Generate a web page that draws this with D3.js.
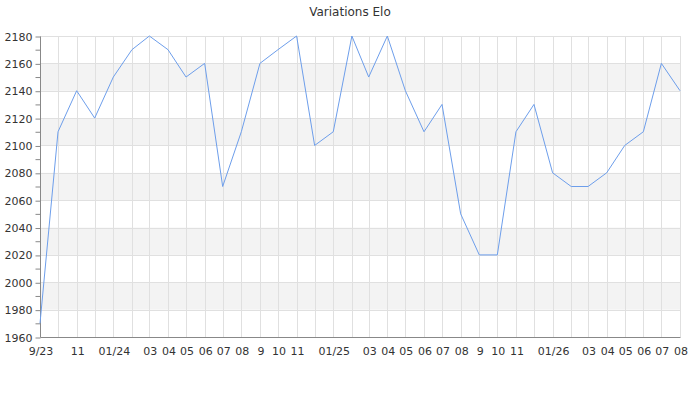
<!DOCTYPE html>
<html><head><meta charset="utf-8">
<script src="https://cdn.jsdelivr.net/npm/d3@7"></script>
<style>
body{margin:0;background:#fff;}
text{font-family:"DejaVu Sans",sans-serif;}
</style></head>
<body><svg id="c" width="700" height="400"></svg>
<script>
const title = "Variations Elo";
const months = ["2023-09","2023-10","2023-11","2023-12",
  "2024-01","2024-02","2024-03","2024-04","2024-05","2024-06","2024-07","2024-08","2024-09","2024-10","2024-11","2024-12",
  "2025-01","2025-02","2025-03","2025-04","2025-05","2025-06","2025-07","2025-08","2025-09","2025-10","2025-11","2025-12",
  "2026-01","2026-02","2026-03","2026-04","2026-05","2026-06","2026-07","2026-08"];
const elo = [1970,2110,2140,2120,
  2150,2170,2180,2170,2150,2160,2070,2110,2160,2170,2180,2100,
  2110,2180,2150,2180,2140,2110,2130,2050,2020,2020,2110,2130,
  2080,2070,2070,2080,2100,2110,2160,2140];
const xTickLabels = ["9/23","","11","",
  "01/24","","03","04","05","06","07","08","9","10","11","",
  "01/25","","03","04","05","06","07","08","9","10","11","",
  "01/26","","03","04","05","06","07","08"];
const yTicks = [1960,1980,2000,2020,2040,2060,2080,2100,2120,2140,2160,2180];

const svg = d3.select("#c");
const parse = d3.timeParse("%Y-%m");
const dates = months.map(parse);
const L=40, R=680, T=36, B=337;
const x = d3.scaleTime().domain([dates[0], dates[dates.length-1]]).range([L,R]);
const y = d3.scaleLinear().domain([1960,2180]).range([B,T]);

// bands
const bands = [];
for (let i=0;i<yTicks.length-1;i++) if (i%2===1) bands.push([yTicks[i],yTicks[i+1]]);
svg.append("g").selectAll("rect").data(bands).join("rect")
  .attr("x",L).attr("width",R-L)
  .attr("y",d=>y(d[1])).attr("height",d=>y(d[0])-y(d[1]))
  .attr("fill","#f3f3f3");

// vertical grid
svg.append("g").selectAll("line").data(dates.slice(1)).join("line")
  .attr("x1",d=>Math.round(x(d))+0.5).attr("x2",d=>Math.round(x(d))+0.5)
  .attr("y1",T).attr("y2",B).attr("stroke","#e0e0e0").attr("stroke-width",1);
// horizontal grid
svg.append("g").selectAll("line").data(yTicks.slice(1)).join("line")
  .attr("x1",L).attr("x2",R)
  .attr("y1",d=>Math.round(y(d))+0.5).attr("y2",d=>Math.round(y(d))+0.5)
  .attr("stroke","#e0e0e0").attr("stroke-width",1);

// y axis
const yAxis = d3.axisLeft(y).tickValues(yTicks).tickSize(5).tickPadding(3).tickFormat(d3.format("d"));
const gy = svg.append("g").attr("transform",`translate(${L+0.5},0.5)`).call(yAxis);
const yMinor = d3.range(1970,2180,20);
gy.selectAll(".minor").data(yMinor).join("line").attr("class","minor")
  .attr("x1",-5).attr("x2",0).attr("y1",d=>y(d)).attr("y2",d=>y(d)).attr("stroke","#888");
gy.select(".domain").attr("stroke","#888").attr("d",`M0,${T}V${B}`);
gy.selectAll(".tick line").attr("stroke","#888");
gy.selectAll("text").attr("font-size","11px").attr("fill","#333").attr("font-family","DejaVu Sans");

// x axis
const xAxis = d3.axisBottom(x).tickValues(dates).tickSize(0).tickPadding(10)
  .tickFormat((d,i)=>xTickLabels[i]);
const gx = svg.append("g").attr("transform",`translate(0.5,${B+0.5})`).call(xAxis);
gx.select(".domain").attr("stroke","#888").attr("d",`M${L},0H${R}`);
gx.selectAll("text").attr("font-size","11px").attr("fill","#333").attr("font-family","DejaVu Sans");

// line
svg.append("path").datum(elo)
  .attr("fill","none").attr("stroke","#6d9eeb").attr("stroke-width",1)
  .attr("d", d3.line().x((d,i)=>x(dates[i])).y(d=>y(d)));

svg.append("text").attr("x",350).attr("y",16).attr("text-anchor","middle")
  .attr("font-size","12px").attr("fill","#333").text(title);
</script></body></html>
